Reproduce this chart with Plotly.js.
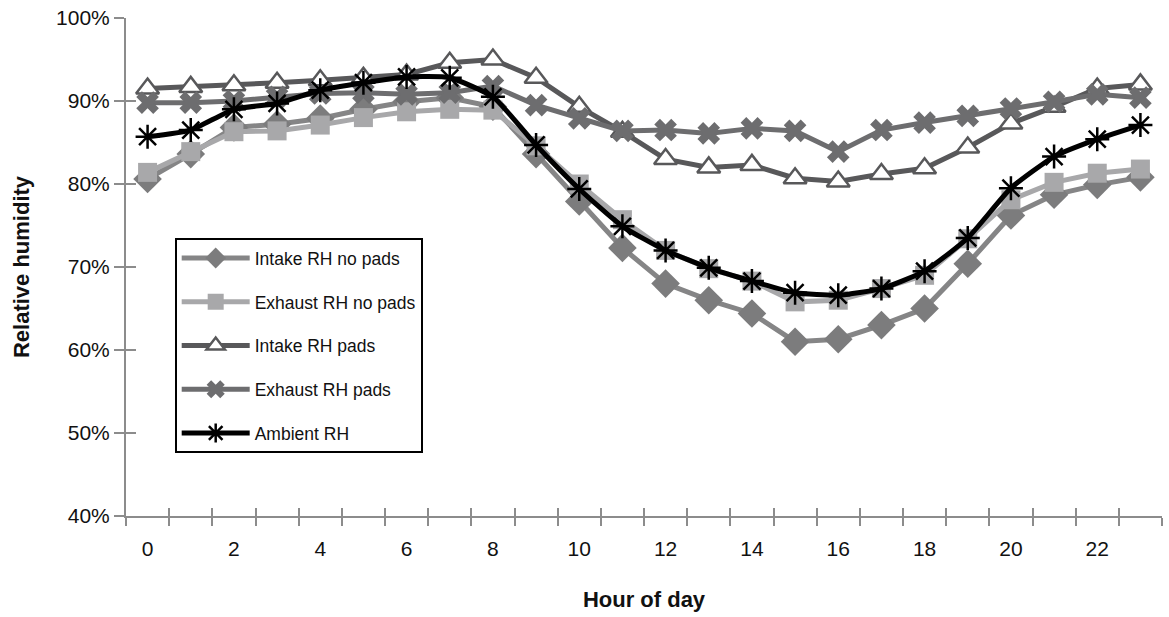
<!DOCTYPE html>
<html>
<head>
<meta charset="utf-8">
<script src="https://cdn.plot.ly/plotly-3.0.1.min.js"></script>
<style>html,body{margin:0;padding:0;background:#fff;}#chart{width:1169px;height:617px;}</style>
</head>
<body>
<div id="chart"></div>
<script>
const hours = [0,1,2,3,4,5,6,7,8,9,10,11,12,13,14,15,16,17,18,19,20,21,22,23];
const xTickLabels = ["0","2","4","6","8","10","12","14","16","18","20","22"];
const xTickVals = [0,2,4,6,8,10,12,14,16,18,20,22];
const yTickVals = [40,50,60,70,80,90,100];
const yTickLabels = ["40%","50%","60%","70%","80%","90%","100%"];

const intakeNoPads  = [80.6,83.6,86.8,87.2,87.9,89.0,89.9,90.4,89.3,83.6,77.9,72.3,68.0,66.0,64.4,61.0,61.3,63.0,65.0,70.4,76.2,78.7,79.9,80.8];
const exhaustNoPads = [81.4,83.9,86.3,86.4,87.1,88.0,88.7,89.0,88.9,84.6,80.0,75.7,72.0,69.8,68.3,65.8,66.0,67.4,69.0,73.4,78.1,80.2,81.3,81.8];
const intakePads    = [91.5,91.7,91.9,92.2,92.5,92.8,93.2,94.6,95.0,92.8,89.3,86.3,83.0,82.0,82.3,80.7,80.3,81.2,81.9,84.4,87.3,89.3,91.5,92.0];
const exhaustPads   = [89.8,89.8,90.0,90.5,90.9,91.0,90.8,91.0,91.8,89.5,87.9,86.4,86.5,86.1,86.7,86.4,83.9,86.5,87.4,88.2,89.1,89.9,90.8,90.4];
const ambient       = [85.7,86.5,89.0,89.7,91.3,92.2,92.9,92.8,90.5,84.7,79.4,74.9,72.0,69.9,68.3,66.9,66.6,67.4,69.5,73.5,79.5,83.3,85.4,87.1];

const seriesNames = ["Intake RH no pads","Exhaust RH no pads","Intake RH pads","Exhaust RH pads","Ambient RH"];

const halfTicks = [];
for (let i = 0; i <= hours.length; i++) halfTicks.push(i - 0.5);

const font = "Liberation Sans, Arial, Helvetica, sans-serif";
const axisGray = "#8c8c8c";
const textColor = "#111111";

const traces = [
  {x: hours, y: intakeNoPads, name: seriesNames[0], mode: "lines+markers", legendgroup: "a",
   line: {color: "#858586", width: 5},
   marker: {symbol: "diamond", size: 22, color: "#7c7c7d"}},
  {x: hours, y: exhaustNoPads, name: seriesNames[1], mode: "lines+markers", legendgroup: "b",
   line: {color: "#a8a8aa", width: 5},
   marker: {symbol: "square", size: 19, color: "#a8a8aa"}},
  {x: hours, y: intakePads, name: seriesNames[2], mode: "lines+markers", legendgroup: "c",
   line: {color: "#58585a", width: 5},
   marker: {symbol: "triangle-up", size: 20, color: "#ffffff", line: {color: "#58585a", width: 2.5}}},
  {x: hours, y: exhaustPads, name: seriesNames[3], mode: "lines+markers", legendgroup: "d",
   line: {color: "#6d6d6f", width: 5},
   marker: {symbol: "x", size: 20, color: "#6d6d6f"}},
  {x: hours, y: ambient, name: seriesNames[4], mode: "lines+markers", legendgroup: "e",
   line: {color: "#000000", width: 5, shape: "spline", smoothing: 0.5},
   marker: {symbol: "asterisk-open", size: 20, color: "#000000", line: {color: "#000000", width: 2.5}}},
  {x: [hours[0]], y: [yTickVals[0]], xaxis: "x2", yaxis: "y2", mode: "markers", showlegend: false,
   hoverinfo: "skip", marker: {opacity: 0}}
];

const layout = {
  width: 1169, height: 617,
  paper_bgcolor: "#ffffff", plot_bgcolor: "#ffffff",
  margin: {l: 126, r: 7, t: 18, b: 101},
  font: {family: font, size: 21, color: textColor},
  showlegend: true,
  legend: {
    x: 0.047, y: 0.558, xanchor: "left", yanchor: "top",
    bordercolor: "#000000", borderwidth: 2, bgcolor: "#ffffff",
    font: {family: font, size: 17.5, color: textColor},
    tracegroupgap: 18, traceorder: "grouped", itemwidth: 68
  },
  xaxis: {
    range: [-0.5, 23.5], tickmode: "array", tickvals: xTickVals, ticktext: xTickLabels,
    ticks: "", showgrid: false, zeroline: false,
    showline: true, linecolor: axisGray, linewidth: 2,
    ticklabelstandoff: 13,
    tickfont: {family: font, size: 21, color: textColor},
    minor: {tickmode: "array", tickvals: halfTicks, ticks: "outside", ticklen: 8, tickwidth: 2, tickcolor: axisGray, showgrid: false},
    title: {text: "<b>Hour of day</b>", font: {family: font, size: 22, color: textColor}, standoff: 32}
  },
  yaxis: {
    range: [40, 100], tickmode: "array", tickvals: yTickVals, ticktext: yTickLabels,
    ticks: "outside", ticklen: 10, tickwidth: 2, tickcolor: axisGray,
    showgrid: false, zeroline: false,
    showline: true, linecolor: axisGray, linewidth: 2,
    tickfont: {family: font, size: 21, color: textColor},
    title: {text: "<b>Relative humidity</b>", font: {family: font, size: 22, color: textColor}, standoff: 20}
  },
  xaxis2: {
    overlaying: "x", anchor: "y", side: "bottom", range: [-0.5, 23.5],
    tickmode: "array", tickvals: halfTicks, showticklabels: false,
    ticks: "inside", ticklen: 8, tickwidth: 2, tickcolor: axisGray,
    showgrid: false, zeroline: false, showline: false
  },
  yaxis2: {
    overlaying: "y", anchor: "x", side: "left", range: [40, 100],
    tickmode: "array", tickvals: yTickVals, showticklabels: false,
    ticks: "inside", ticklen: 10, tickwidth: 2, tickcolor: axisGray,
    showgrid: false, zeroline: false, showline: false
  }
};

Plotly.newPlot("chart", traces, layout, {staticPlot: true, displayModeBar: false});
</script>
</body>
</html>
